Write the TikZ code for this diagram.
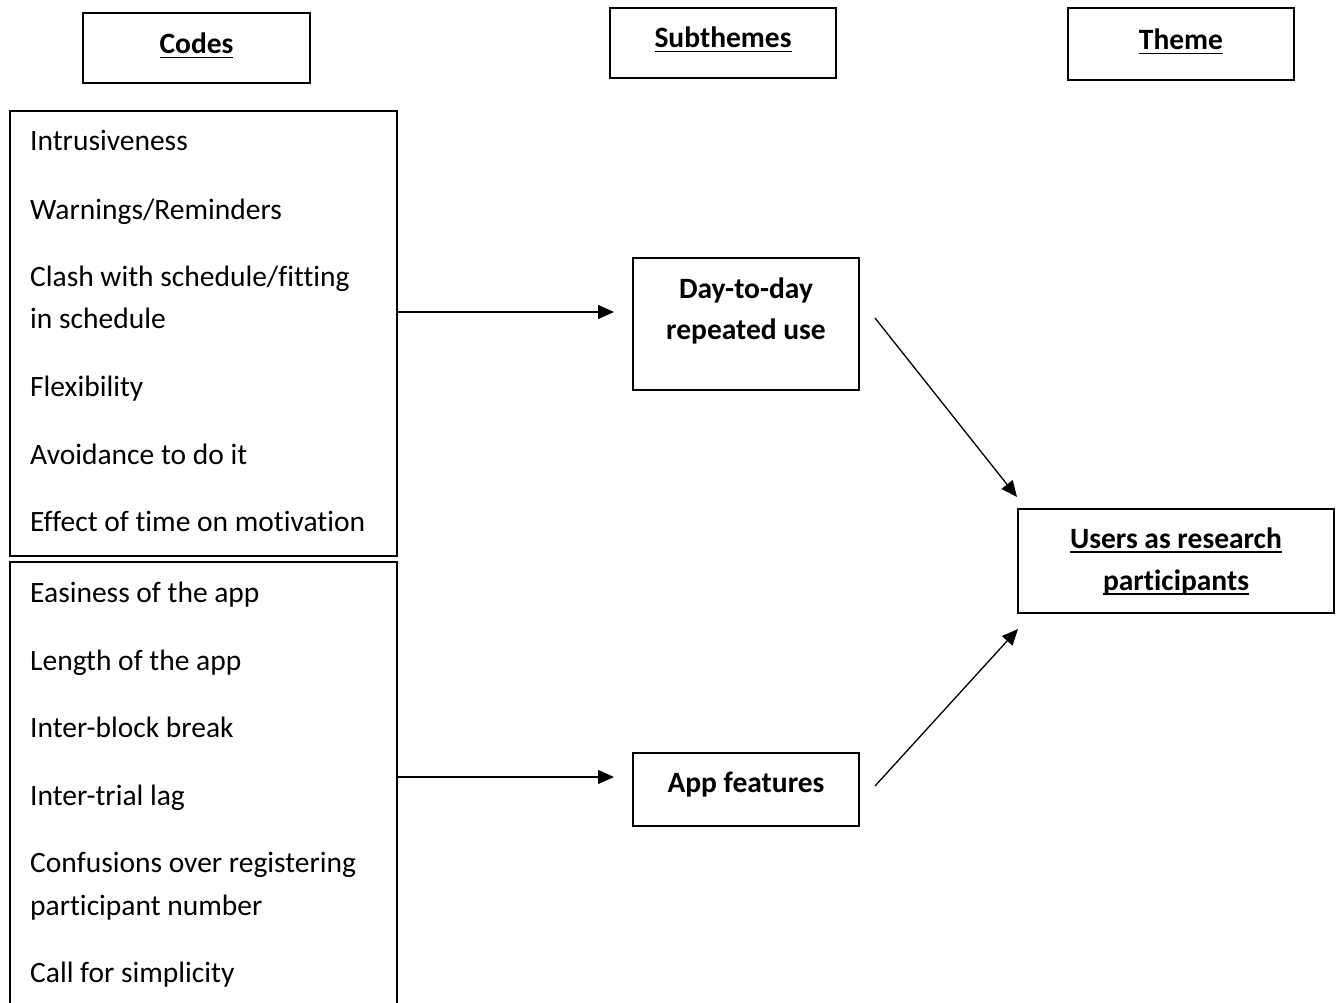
\documentclass[tikz,border=0pt]{standalone}
\usepackage{fontspec}
\setmainfont{Carlito}[Ligatures=NoCommon]
\usetikzlibrary{arrows.meta}
\newcommand{\ulin}[1]{\setbox0\hbox{#1}\rlap{\rule[-4.5pt]{\wd0}{1.8pt}}\box0}
\begin{document}
\begin{tikzpicture}[x=1pt,y=-1pt,
  box/.style={draw,line width=1.5pt,inner sep=0pt,rectangle},
  item/.style={anchor=base west,inner sep=0pt,font=\fontsize{29.5}{42}\selectfont},
  head/.style={anchor=base,inner sep=0pt,font=\fontsize{29.5}{42}\selectfont\bfseries},
  arr/.style={line width=1.3pt,-{Triangle[length=16pt,width=14pt]}}]
\clip (0,0) rectangle (1341,1003);
% header boxes
\node[box,minimum width=227pt,minimum height=70pt] (hcodes) at (196.5,48) {};
\node[box,minimum width=226pt,minimum height=70pt] (hsub) at (723,43) {};
\node[box,minimum width=226pt,minimum height=72pt] (htheme) at (1181,44) {};
\node[head] (thcodes) at (196.5,54) {\ulin{Codes}};
\node[head] (thsub) at (723,48) {\ulin{Subthemes}};
\node[head] (ththeme) at (1181,50) {\ulin{Theme}};
% code boxes
\node[box,minimum width=387pt,minimum height=445pt] (box1) at (203.5,333.5) {};
\node[box,minimum width=387pt,minimum height=468pt] (box2) at (203.5,796) {};
\node[item] (c1) at (30,151) {Intrusiveness};
\node[item] (c2) at (30,219) {Warnings/Reminders};
\node[item] (c3a) at (30,286) {Clash with schedule/fitting};
\node[item] (c3b) at (30,328) {in schedule};
\node[item] (c4) at (30,396) {Flexibility};
\node[item] (c5) at (30,464) {Avoidance to do it};
\node[item] (c6) at (30,531) {Effect of time on motivation};
\node[item] (c7) at (30,602) {Easiness of the app};
\node[item] (c8) at (30,670) {Length of the app};
\node[item] (c9) at (30,737) {Inter-block break};
\node[item] (c10) at (30,805) {Inter-trial lag};
\node[item] (c11a) at (30,872) {Confusions over registering};
\node[item] (c11b) at (30,915) {participant number};
\node[item] (c12) at (30,982) {Call for simplicity};
% subtheme boxes
\node[box,minimum width=226pt,minimum height=132pt] (day) at (746,324) {};
\node[head] (tday1) at (746,298) {Day-to-day};
\node[head] (tday2) at (746,339) {repeated use};
\node[box,minimum width=226pt,minimum height=73pt] (app) at (746,789.5) {};
\node[head] (tapp) at (746,792) {App features};
% theme box
\node[box,minimum width=316pt,minimum height=104pt] (users) at (1176,561) {};
\node[head] (tusers1) at (1176,548) {\ulin{Users as research}};
\node[head] (tusers2) at (1176,590) {\ulin{participants}};
% connectors
\coordinate (a1) at (614,312);
\coordinate (a2) at (614,777);
\coordinate (s3) at (875,318);
\coordinate (e3) at (1017,497);
\coordinate (s4) at (875,786);
\coordinate (e4) at (1018,629);
\draw[arr] (box1.east |- a1) -- (a1);
\draw[arr] (box2.east |- a2) -- (a2);
\draw[arr] (s3) -- (e3);
\draw[arr] (s4) -- (e4);
\end{tikzpicture}
\end{document}
